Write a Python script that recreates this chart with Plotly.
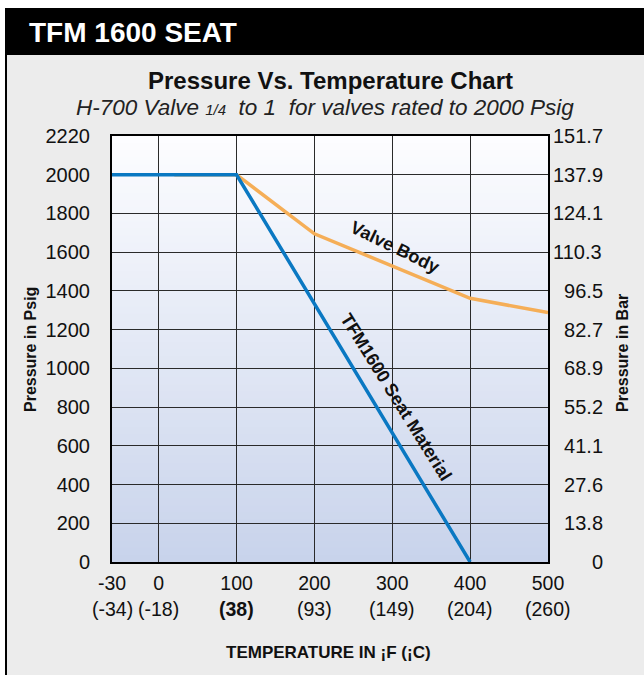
import plotly.graph_objects as go

# ---------------- data ----------------
temp_tick_pos = [-60, 0, 100, 200, 300, 400, 500]      # axis positions of the F ticks (-30 is drawn at the left edge)
temp_f_labels = ["-30", "0", "100", "200", "300", "400", "500"]
temp_c_labels = ["(-34)", "(-18)", "<b>(38)</b>", "(93)", "(149)", "(204)", "(260)"]

psig_ticks = [0, 200, 400, 600, 800, 1000, 1200, 1400, 1600, 1800, 2000, 2200]
psig_labels = ["0", "200", "400", "600", "800", "1000", "1200", "1400", "1600", "1800", "2000", "2220"]
bar_labels = ["0", "13.8", "27.6", "41.1", "55.2", "68.9", "82.7", "96.5", "110.3", "124.1", "137.9", "151.7"]

seat_temp = [-60, 100, 400]
seat_psig = [2000, 2000, 0]

body_temp = [20, 100, 200, 400, 500]
body_psig = [2000, 2000, 1695, 1362, 1288]

# ---------------- layout constants ----------------
W, H = 644, 675
ML, MR, MT, MB = 112, 96, 136, 113
PW, PH = W - ML - MR, H - MT - MB


def px(x):
    return (x - ML) / PW


def py(y):
    return (H - MB - y) / PH


FONT = "Liberation Sans, Arial, sans-serif"

fig = go.Figure()

fig.add_trace(go.Scatter(x=body_temp, y=body_psig, mode="lines",
                         line=dict(color="#f5ae57", width=3.5), hoverinfo="skip", showlegend=False))
fig.add_trace(go.Scatter(x=seat_temp, y=seat_psig, mode="lines",
                         line=dict(color="#0a78c2", width=3.5), hoverinfo="skip", showlegend=False))
# invisible trace to anchor the right (bar) axis
fig.add_trace(go.Scatter(x=[seat_temp[0]], y=[seat_psig[0]], yaxis="y2", mode="markers",
                         marker=dict(opacity=0), hoverinfo="skip", showlegend=False))

shapes = []
# grey panel with black left border
shapes.append(dict(type="rect", xref="paper", yref="paper", layer="below",
                   x0=px(6), x1=px(W + 20), y0=py(H + 20), y1=py(54),
                   fillcolor="#ececec", line=dict(color="#000000", width=2)))
# black header bar
shapes.append(dict(type="rect", xref="paper", yref="paper", layer="below",
                   x0=px(5), x1=px(W + 20), y0=py(54), y1=py(8),
                   fillcolor="#000000", line=dict(width=0)))
# vertical gradient in plot area
N = 60
top = (253, 253, 255)
bot = (200, 211, 235)
for i in range(N):
    t = (i + 0.5) / N  # 0 bottom -> 1 top
    c = tuple(round(bot[k] + (top[k] - bot[k]) * t) for k in range(3))
    shapes.append(dict(type="rect", xref="x domain", yref="y domain", layer="below",
                       x0=0, x1=1, y0=i / N, y1=(i + 1) / N + 0.002,
                       fillcolor="rgb(%d,%d,%d)" % c, line=dict(width=0)))

annotations = [
    dict(text="<b>TFM 1600 SEAT</b>", x=px(27), y=py(32), xref="paper", yref="paper",
         xanchor="left", yanchor="middle", showarrow=False,
         font=dict(family=FONT, size=28, color="#ffffff")),
    dict(text="<b>Pressure Vs. Temperature Chart</b>", x=px(330), y=py(80), xref="paper", yref="paper",
         xanchor="center", yanchor="middle", showarrow=False,
         font=dict(family=FONT, size=24, color="#111111")),
    dict(text="<i>H-700 Valve <span style='font-size:15px'>1/4</span>  to 1  for valves rated to 2000 Psig</i>",
         x=px(325), y=py(107), xref="paper", yref="paper",
         xanchor="center", yanchor="middle", showarrow=False,
         font=dict(family=FONT, size=22.5, color="#222222")),
    dict(text="<b>Pressure in Psig</b>", x=px(30), y=py(350), xref="paper", yref="paper",
         xanchor="center", yanchor="middle", textangle=-90, showarrow=False,
         font=dict(family=FONT, size=16, color="#111111")),
    dict(text="<b>Pressure in Bar</b>", x=px(622), y=py(353), xref="paper", yref="paper",
         xanchor="center", yanchor="middle", textangle=-90, showarrow=False,
         font=dict(family=FONT, size=16, color="#111111")),
    dict(text="<b>TEMPERATURE IN ¡F (¡C)</b>", x=px(328), y=py(652), xref="paper", yref="paper",
         xanchor="center", yanchor="middle", showarrow=False,
         font=dict(family=FONT, size=17, color="#111111")),
    dict(text="<b>Valve Body</b>", x=303, y=1628, xref="x", yref="y",
         textangle=26, showarrow=False, font=dict(family=FONT, size=18, color="#111111")),
    dict(text="<b>TFM1600 Seat Material</b>", x=305, y=854, xref="x", yref="y",
         textangle=58, showarrow=False, font=dict(family=FONT, size=18, color="#111111")),
]
# Celsius line under the Fahrenheit tick labels
for xv, lab in zip(temp_tick_pos, temp_c_labels):
    annotations.append(dict(text=lab, x=xv, y=py(609), xref="x", yref="paper",
                            xanchor="center", yanchor="middle", showarrow=False,
                            font=dict(family=FONT, size=19.5, color="#111111")))

FS = "\u2007"  # figure space (digit width)
PS = "\u2008"  # punctuation space


def pad(s):
    digits = sum(ch.isdigit() for ch in s)
    has_dot = "." in s
    return FS * (4 - digits) + ("" if has_dot else PS) + s


fig.update_layout(
    width=W, height=H,
    margin=dict(l=ML, r=MR, t=MT, b=MB, pad=0),
    paper_bgcolor="#ffffff",
    plot_bgcolor="rgba(0,0,0,0)",
    showlegend=False,
    shapes=shapes,
    annotations=annotations,
    font=dict(family=FONT, color="#111111"),
    xaxis=dict(range=[temp_tick_pos[0], temp_tick_pos[-1]],
               tickmode="array", tickvals=temp_tick_pos, ticktext=temp_f_labels,
               tickfont=dict(family=FONT, size=19.5, color="#111111"),
               showgrid=True, gridcolor="#2a2a2a", gridwidth=1,
               showline=True, linecolor="#000000", linewidth=2, mirror=True,
               ticks="", ticklabelstandoff=3, zeroline=False, fixedrange=True),
    yaxis=dict(range=[0, 2200], tickmode="array", tickvals=psig_ticks, ticktext=psig_labels,
               tickfont=dict(family=FONT, size=20, color="#111111"),
               showgrid=True, gridcolor="#2a2a2a", gridwidth=1,
               showline=True, linecolor="#000000", linewidth=2, mirror=True,
               ticks="", ticklabelstandoff=16, zeroline=False, fixedrange=True),
    yaxis2=dict(range=[0, 2200], overlaying="y", side="right",
                tickmode="array", tickvals=psig_ticks, ticktext=[pad(b) for b in bar_labels],
                tickfont=dict(family=FONT, size=20, color="#111111"),
                showgrid=False, showline=False, ticks="", ticklabelstandoff=4,
                zeroline=False, fixedrange=True),
)

fig.write_html("out.html", config={"displayModeBar": False},
               post_script="document.body.style.margin='0';document.body.style.overflow='hidden';")
